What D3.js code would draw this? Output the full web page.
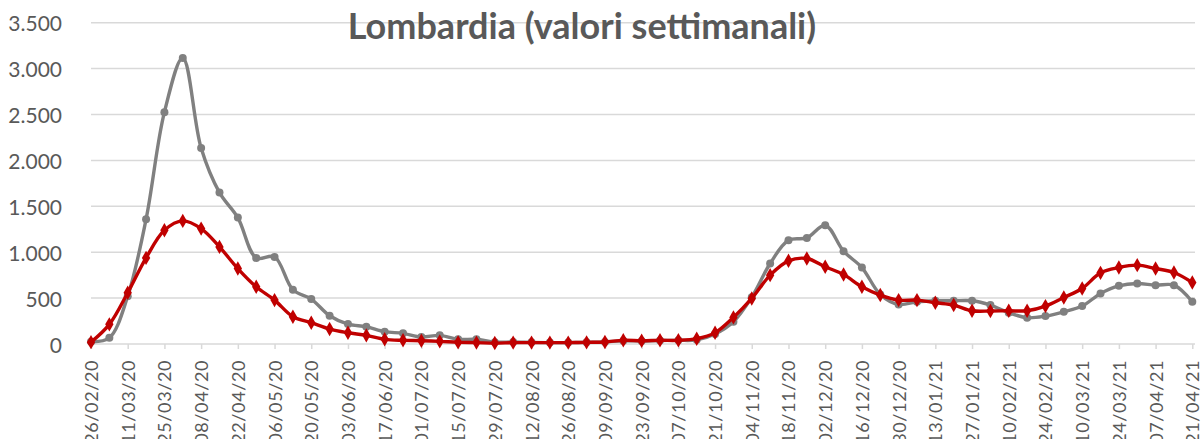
<!DOCTYPE html>
<html>
<head>
<meta charset="utf-8">
<script src="https://cdn.jsdelivr.net/npm/d3@7"></script>
<style>
  body { margin: 0; background: #fff; }
  text { font-family: Lato, "Liberation Sans", sans-serif; fill: #595959; }
</style>
</head>
<body>
<div id="chart"></div>
<script>
// settimane (categorie)
var settimane = [
  "26/02/20","04/03/20","11/03/20","18/03/20","25/03/20","01/04/20","08/04/20","15/04/20","22/04/20","29/04/20",
  "06/05/20","13/05/20","20/05/20","27/05/20","03/06/20","10/06/20","17/06/20","24/06/20","01/07/20","08/07/20",
  "15/07/20","22/07/20","29/07/20","05/08/20","12/08/20","19/08/20","26/08/20","02/09/20","09/09/20","16/09/20",
  "23/09/20","30/09/20","07/10/20","14/10/20","21/10/20","28/10/20","04/11/20","11/11/20","18/11/20","25/11/20",
  "02/12/20","09/12/20","16/12/20","23/12/20","30/12/20","06/01/21","13/01/21","20/01/21","27/01/21","03/02/21",
  "10/02/21","17/02/21","24/02/21","03/03/21","10/03/21","17/03/21","24/03/21","31/03/21","07/04/21","14/04/21",
  "21/04/21"
];

var serieGrigia = [
  25, 68, 520, 1359, 2525, 3116, 2134, 1649, 1377, 938,
  949, 590, 489, 308, 217, 188, 134, 116, 76, 94,
  51, 51, 20, 22, 18, 15, 15, 18, 22, 35,
  32, 38, 40, 45, 110, 243, 510, 877, 1130, 1156,
  1293, 1011, 833, 540, 431, 460, 471, 471, 471, 424,
  341, 286, 304, 351, 413, 551, 634, 659, 641, 641,
  460
];

var serieRossa = [
  20, 214, 558, 938, 1239, 1341, 1257, 1058, 822, 623,
  478, 297, 232, 163, 123, 94, 51, 40, 36, 29,
  18, 15, 10, 15, 15, 15, 15, 18, 22, 40,
  36, 40, 40, 58, 123, 290, 496, 750, 906, 931,
  841, 757, 623, 533, 478, 478, 449, 424, 362, 359,
  362, 362, 413, 507, 605, 775, 833, 859, 822, 779,
  670
];

var yTicks = [0, 500, 1000, 1500, 2000, 2500, 3000, 3500];
var titolo = "Lombardia (valori settimanali)";

var total_width = 1203, total_height = 439;
var margin = {top: 22.7, left: 91, right: 10.7, bottom: 95};

var svg = d3.select("#chart").append("svg")
    .attr("width", total_width)
    .attr("height", total_height);

var x = d3.scalePoint()
    .domain(settimane)
    .range([margin.left, total_width - margin.right]);

var y = d3.scaleLinear()
    .domain([0, 3500])
    .range([total_height - margin.bottom, margin.top]);

var fmt = function(v) { return d3.format(",")(v).replace(/,/g, "."); };

// griglia
svg.append("g")
  .selectAll("line")
  .data(yTicks.filter(function(d) { return d > 0; }))
  .enter()
  .append("line")
    .attr("x1", margin.left)
    .attr("x2", 1195)
    .attr("y1", function(d) { return y(d); })
    .attr("y2", function(d) { return y(d); })
    .attr("stroke", "#d9d9d9")
    .attr("stroke-width", 1.5);

// etichette asse y
svg.append("g")
  .selectAll("text")
  .data(yTicks)
  .enter()
  .append("text")
    .attr("x", 62)
    .attr("y", function(d) { return y(d); })
    .attr("text-anchor", "end")
    .attr("dominant-baseline", "central")
    .style("font-size", "21px")
    .text(fmt);

// asse x
var xAxis = svg.append("g")
    .attr("transform", "translate(0," + y(0) + ")")
    .call(d3.axisBottom(x)
      .tickValues(settimane.filter(function(d, i) { return i % 2 == 0; }))
      .tickSize(5)
      .tickPadding(0)
      .tickFormat(""));
xAxis.select(".domain")
    .attr("d", "M" + margin.left + ",0H1195")
    .attr("stroke", "#d9d9d9")
    .attr("stroke-width", 1.5);
xAxis.selectAll(".tick line").attr("stroke", "#d9d9d9").attr("stroke-width", 1.5);

svg.append("g")
  .selectAll("text")
  .data(settimane.filter(function(d, i) { return i % 2 == 0; }))
  .enter()
  .append("text")
    .attr("transform", function(d) { return "translate(" + x(d) + ",360) rotate(-90)"; })
    .attr("text-anchor", "end")
    .attr("dominant-baseline", "central")
    .style("font-size", "18px")
    .style("letter-spacing", "0.6px")
    .text(function(d) { return d; });

// linee
var line = d3.line()
    .x(function(d, i) { return x(settimane[i]); })
    .y(function(d) { return y(d); })
    .curve(d3.curveCatmullRom.alpha(0.5));

svg.append("path")
    .datum(serieGrigia)
    .attr("d", line)
    .attr("fill", "none")
    .attr("stroke", "#808080")
    .attr("stroke-width", 3.4);

svg.append("g")
  .selectAll("circle")
  .data(serieGrigia)
  .enter()
  .append("circle")
    .attr("cx", function(d, i) { return x(settimane[i]); })
    .attr("cy", function(d) { return y(d); })
    .attr("r", 4)
    .attr("fill", "#808080");

svg.append("path")
    .datum(serieRossa)
    .attr("d", line)
    .attr("fill", "none")
    .attr("stroke", "#c00000")
    .attr("stroke-width", 3.4);

svg.append("g")
  .selectAll("path")
  .data(serieRossa)
  .enter()
  .append("path")
    .attr("transform", function(d, i) { return "translate(" + x(settimane[i]) + "," + y(d) + ")"; })
    .attr("d", d3.symbol().type(d3.symbolDiamond).size(60))
    .attr("fill", "#c00000");

// titolo
svg.append("text")
    .attr("x", 582)
    .attr("y", 39)
    .attr("text-anchor", "middle")
    .style("font-size", "36px")
    .style("font-weight", "bold")
    .text(titolo);
</script>
</body>
</html>
